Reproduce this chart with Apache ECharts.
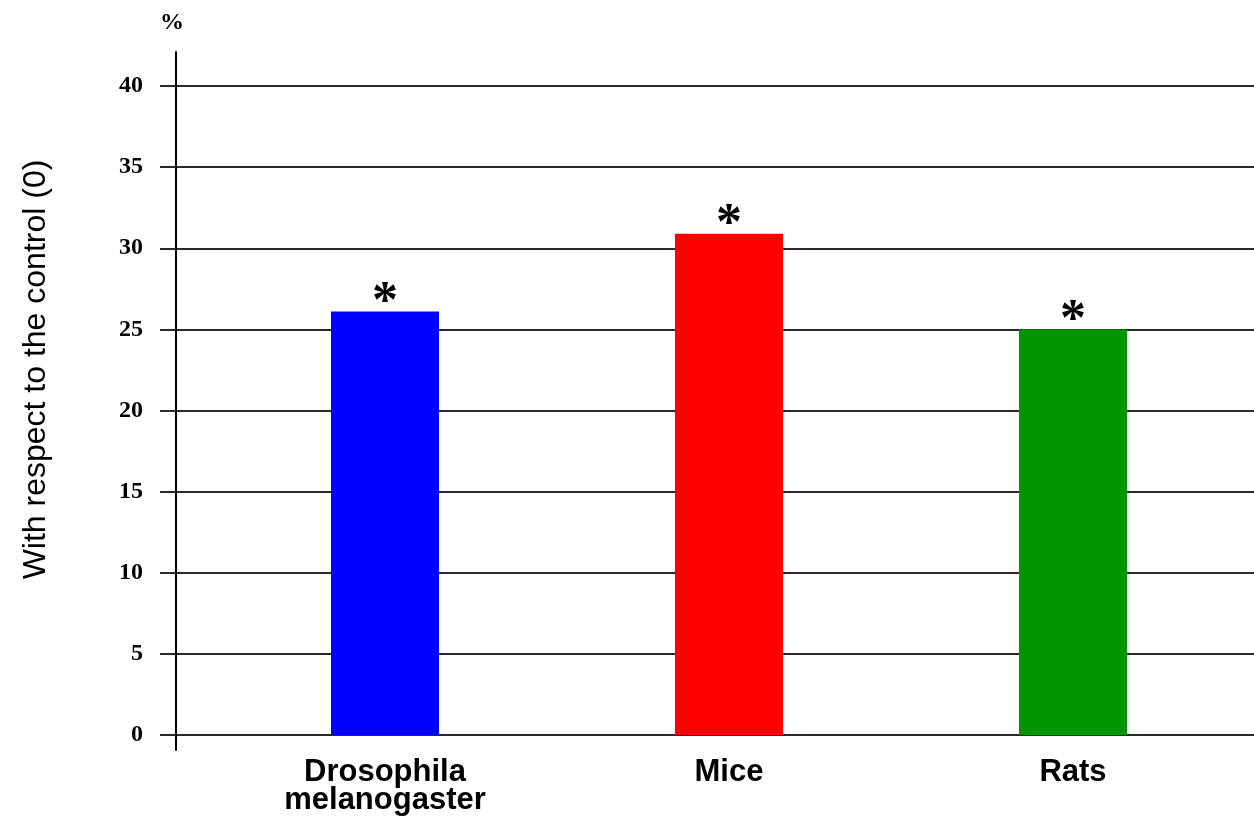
<!DOCTYPE html>
<html>
<head>
<meta charset="utf-8">
<script src="https://cdn.jsdelivr.net/npm/echarts@6/dist/echarts.min.js"></script>
<style>html,body{margin:0;padding:0;background:#fff}#c{width:1254px;height:816px}</style>
</head>
<body>
<div id="c"></div>
<script>
const categories = ['Drosophila\nmelanogaster', 'Mice', 'Rats'];
const values = [26.1, 30.9, 25.0];
const marks = ['*', '*', '*'];
const yMin = 0, yMax = 40, yStep = 5;
const yName = 'With respect to the control (0)';
const unitName = '%';

const palette = ['#0000FF', '#FF0000', '#009400'];

const chart = echarts.init(document.getElementById('c'), null, {renderer: 'canvas'});
const option = {
  animation: false,
  backgroundColor: '#ffffff',
  grid: [
    {left: 213, right: 9, top: 86, bottom: 81, outerBoundsMode: 'none', containLabel: false},
    {left: 176, right: 0, top: 86, bottom: 81, outerBoundsMode: 'none', containLabel: false},
    {left: 176, right: 0, top: 52, bottom: 66, outerBoundsMode: 'none', containLabel: false}
  ],
  xAxis: [
    {
      gridIndex: 0, type: 'category', data: categories,
      axisLine: {show: false}, axisTick: {show: false},
      axisLabel: {
        color: '#000', fontFamily: 'Liberation Sans', fontWeight: 'bold',
        fontSize: 31, lineHeight: 28, margin: 23
      }
    },
    {gridIndex: 1, type: 'value', show: false},
    {gridIndex: 2, type: 'value', show: false}
  ],
  yAxis: [
    {gridIndex: 0, type: 'value', min: yMin, max: yMax, interval: yStep, show: false},
    {
      gridIndex: 1, type: 'value', min: yMin, max: yMax, interval: yStep,
      axisLine: {show: false},
      axisTick: {show: true, length: 16, lineStyle: {color: '#2a2a2a', width: 2}},
      axisLabel: {
        color: '#000', fontFamily: 'Liberation Serif', fontWeight: 'bold',
        fontSize: 24, margin: 33
      },
      splitLine: {show: true, lineStyle: {color: '#2a2a2a', width: 2}},
      name: yName, nameLocation: 'middle', nameGap: 124,
      nameTextStyle: {
        color: '#000', fontFamily: 'Liberation Sans', fontSize: 32,
        padding: [0, 0, 0, 82]
      }
    },
    {
      gridIndex: 2, type: 'value', min: 0, max: 1,
      axisLine: {show: true, lineStyle: {color: '#000', width: 2}},
      axisTick: {show: false}, axisLabel: {show: false}, splitLine: {show: false},
      name: unitName, nameLocation: 'end', nameGap: 17,
      nameTextStyle: {color: '#000', fontFamily: 'Liberation Serif', fontWeight: 'bold', fontSize: 24, padding: [0, 8, 0, 0]}
    }
  ],
  series: [{
    type: 'bar',
    xAxisIndex: 0, yAxisIndex: 0,
    barWidth: 108,
    data: values.map((v, i) => ({
      value: v,
      itemStyle: {color: palette[i]},
      label: {formatter: marks[i]}
    })),
    label: {
      show: true, position: 'top', distance: -18,
      color: '#000', fontFamily: 'Liberation Serif', fontWeight: 'bold', fontSize: 52
    }
  }]
};
chart.setOption(option);
</script>
</body>
</html>
